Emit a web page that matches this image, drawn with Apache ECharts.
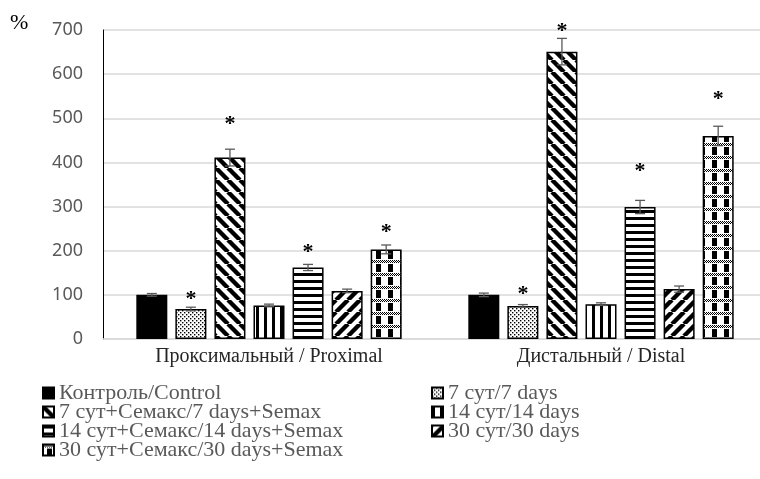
<!DOCTYPE html>
<html>
<head>
<meta charset="utf-8">
<script src="https://cdn.jsdelivr.net/npm/echarts@6/dist/echarts.min.js"></script>
<style>
  html, body { margin: 0; padding: 0; background: #fff; }
  #chart { width: 760px; height: 479px; }
</style>
</head>
<body>
<div id="chart"></div>
<script>
// Categories (nerve segment)
const categories = ['Проксимальный / Proximal', 'Дистальный / Distal'];

// Group names, in drawing order
const groupNames = [
  'Контроль/Control',
  '7 сут/7 days',
  '7 сут+Семакс/7 days+Semax',
  '14 сут/14 days',
  '14 сут+Семакс/14 days+Semax',
  '30 сут/30 days',
  '30 сут+Семакс/30 days+Semax'
];

// Mean values, % of control: [proximal, distal]
const control    = [100, 100];
const day7       = [68, 75];
const day7Semax  = [411, 651];
const day14      = [76, 79];
const day14Semax = [162, 299];
const day30      = [109, 113];
const day30Semax = [203, 460];

// Error (±) per group: [proximal, distal]
const errControl    = [3, 4];
const errDay7       = [4, 3];
const errDay7Semax  = [19, 30];
const errDay14      = [3, 3];
const errDay14Semax = [7, 15];
const errDay30      = [4, 7];
const errDay30Semax = [10, 22];

// Level (in %) at which the significance asterisk sits; 0 = no asterisk
const sigControl    = [0, 0];
const sigDay7       = [101, 113];
const sigDay7Semax  = [498, 709];
const sigDay14      = [0, 0];
const sigDay14Semax = [208, 391];
const sigDay30      = [0, 0];
const sigDay30Semax = [253, 555];

// Y axis ticks
const yTicks = [0, 100, 200, 300, 400, 500, 600, 700];

const values = [control, day7, day7Semax, day14, day14Semax, day30, day30Semax];
const errors = [errControl, errDay7, errDay7Semax, errDay14, errDay14Semax, errDay30, errDay30Semax];
const sigs   = [sigControl, sigDay7, sigDay7Semax, sigDay14, sigDay14Semax, sigDay30, sigDay30Semax];

// ---- hatch fills -------------------------------------------------------
function tile(w, h, draw) {
  const c = document.createElement('canvas');
  c.width = w; c.height = h;
  const g = c.getContext('2d');
  g.fillStyle = '#fff';
  g.fillRect(0, 0, w, h);
  g.fillStyle = '#000';
  g.strokeStyle = '#000';
  draw(g, w, h);
  return { image: c, repeat: 'repeat' };
}
const fillDots = tile(4, 4, (g) => {
  g.fillRect(0, 0, 1.4, 1.4);
  g.fillRect(2, 2, 1.4, 1.4);
});
const fillBackDiag = tile(12, 12, (g) => {
  g.lineWidth = 4.4;
  for (let k = -1; k <= 1; k++) {
    g.beginPath(); g.moveTo(k * 12, 0); g.lineTo(k * 12 + 12, 12); g.stroke();
  }
});
const fillFwdDiag = tile(12, 12, (g) => {
  g.lineWidth = 4.4;
  for (let k = -1; k <= 1; k++) {
    g.beginPath(); g.moveTo(k * 12, 12); g.lineTo(k * 12 + 12, 0); g.stroke();
  }
});
const fillVert = tile(8, 2, (g) => { g.fillRect(0, 0, 3, 2); });
const fillHoriz = tile(2, 7, (g) => { g.fillRect(0, 0, 2, 3); });
const fillPlaid = tile(12, 13, (g) => {
  // band of small checker dots
  for (let x = 0; x < 12; x += 2) {
    g.fillRect(x, 0, 1, 1);
    g.fillRect(x + 1, 1, 1, 1);
    g.fillRect(x, 2, 1, 1);
  }
  // block inside each cell
  g.fillRect(4, 4, 5, 8);
});
const fills = ['#000', fillDots, fillBackDiag, fillVert, fillHoriz, fillFwdDiag, fillPlaid];

const BAR_W = 31;
const BAR_GAP = 0.26;
const serif = 'Liberation Serif, Times New Roman, serif';

const barSeries = groupNames.map((name, i) => ({
  type: 'bar',
  name: name,
  data: values[i],
  barWidth: BAR_W,
  barGap: (BAR_GAP * 100) + '%',
  itemStyle: { color: fills[i], borderColor: '#000', borderWidth: 1.5 },
  emphasis: { disabled: true },
  z: 2
}));

// whiskers and asterisks
const whiskerData = [];
values.forEach((arr, si) => {
  arr.forEach((v, ci) => {
    whiskerData.push([ci, si, v, errors[si][ci], sigs[si][ci]]);
  });
});

const whiskers = {
  type: 'custom',
  name: 'whiskers',
  data: whiskerData,
  encode: { x: 0, y: 2 },
  clip: false,
  z: 5,
  silent: true,
  renderItem: function (params, api) {
    const cat = api.value(0), si = api.value(1), v = api.value(2), e = api.value(3), s = api.value(4);
    const center = api.coord([cat, v]);
    const x = center[0] + (si - (groupNames.length - 1) / 2) * BAR_W * (1 + BAR_GAP);
    const yHi = api.coord([cat, v + e])[1];
    const yLo = api.coord([cat, v - e])[1];
    const ls = { stroke: '#595959', lineWidth: 1.3 };
    const children = [
      { type: 'line', shape: { x1: x, y1: yHi, x2: x, y2: yLo }, style: ls },
      { type: 'line', shape: { x1: x - 5, y1: yHi, x2: x + 5, y2: yHi }, style: ls },
      { type: 'line', shape: { x1: x - 5, y1: yLo, x2: x + 5, y2: yLo }, style: ls }
    ];
    if (s > 0) {
      const ys = api.coord([cat, s])[1];
      children.push({
        type: 'text',
        x: x,
        y: ys + 5,
        style: {
          text: '*', fill: '#000',
          font: 'bold 22px ' + serif,
          textAlign: 'center', textVerticalAlign: 'middle'
        }
      });
    }
    return { type: 'group', children: children };
  }
};

const legendText = { fontFamily: serif, fontSize: 22, color: '#595959' };

const option = {
  animation: false,
  backgroundColor: '#fff',
  graphic: [{
    type: 'text', left: 10, top: 12,
    style: { text: '%', font: '22px ' + serif, fill: '#000' }
  }],
  grid: { left: 103, top: 30, width: 664, height: 309, containLabel: false, outerBoundsMode: 'none' },
  legend: [
    {
      orient: 'vertical', left: 42, top: 382, itemGap: -3, padding: 0,
      itemWidth: 11, itemHeight: 11, icon: 'rect', selectedMode: false,
      textStyle: legendText,
      data: [groupNames[0], groupNames[2], groupNames[4], groupNames[6]]
    },
    {
      orient: 'vertical', left: 431, top: 382, itemGap: -3, padding: 0,
      itemWidth: 11, itemHeight: 11, icon: 'rect', selectedMode: false,
      textStyle: legendText,
      data: [groupNames[1], groupNames[3], groupNames[5]]
    }
  ],
  xAxis: {
    type: 'category',
    data: categories,
    axisLine: { show: true, lineStyle: { color: '#d9d9d9', width: 1.5 } },
    axisTick: { show: false },
    axisLabel: { fontFamily: serif, fontSize: 20, color: '#262626', margin: 8 }
  },
  yAxis: {
    type: 'value',
    min: yTicks[0],
    max: yTicks[yTicks.length - 1],
    interval: yTicks[1] - yTicks[0],
    axisLine: { show: true, lineStyle: { color: '#000', width: 1 } },
    axisTick: { show: false },
    splitLine: { lineStyle: { color: '#d9d9d9', width: 1.5 } },
    axisLabel: { fontFamily: 'Noto Sans, DejaVu Sans, sans-serif', fontSize: 18, color: '#595959', margin: 20 }
  },
  series: barSeries.concat([whiskers])
};

const chart = echarts.init(document.getElementById('chart'), null, { renderer: 'canvas' });
chart.setOption(option);
</script>
</body>
</html>
